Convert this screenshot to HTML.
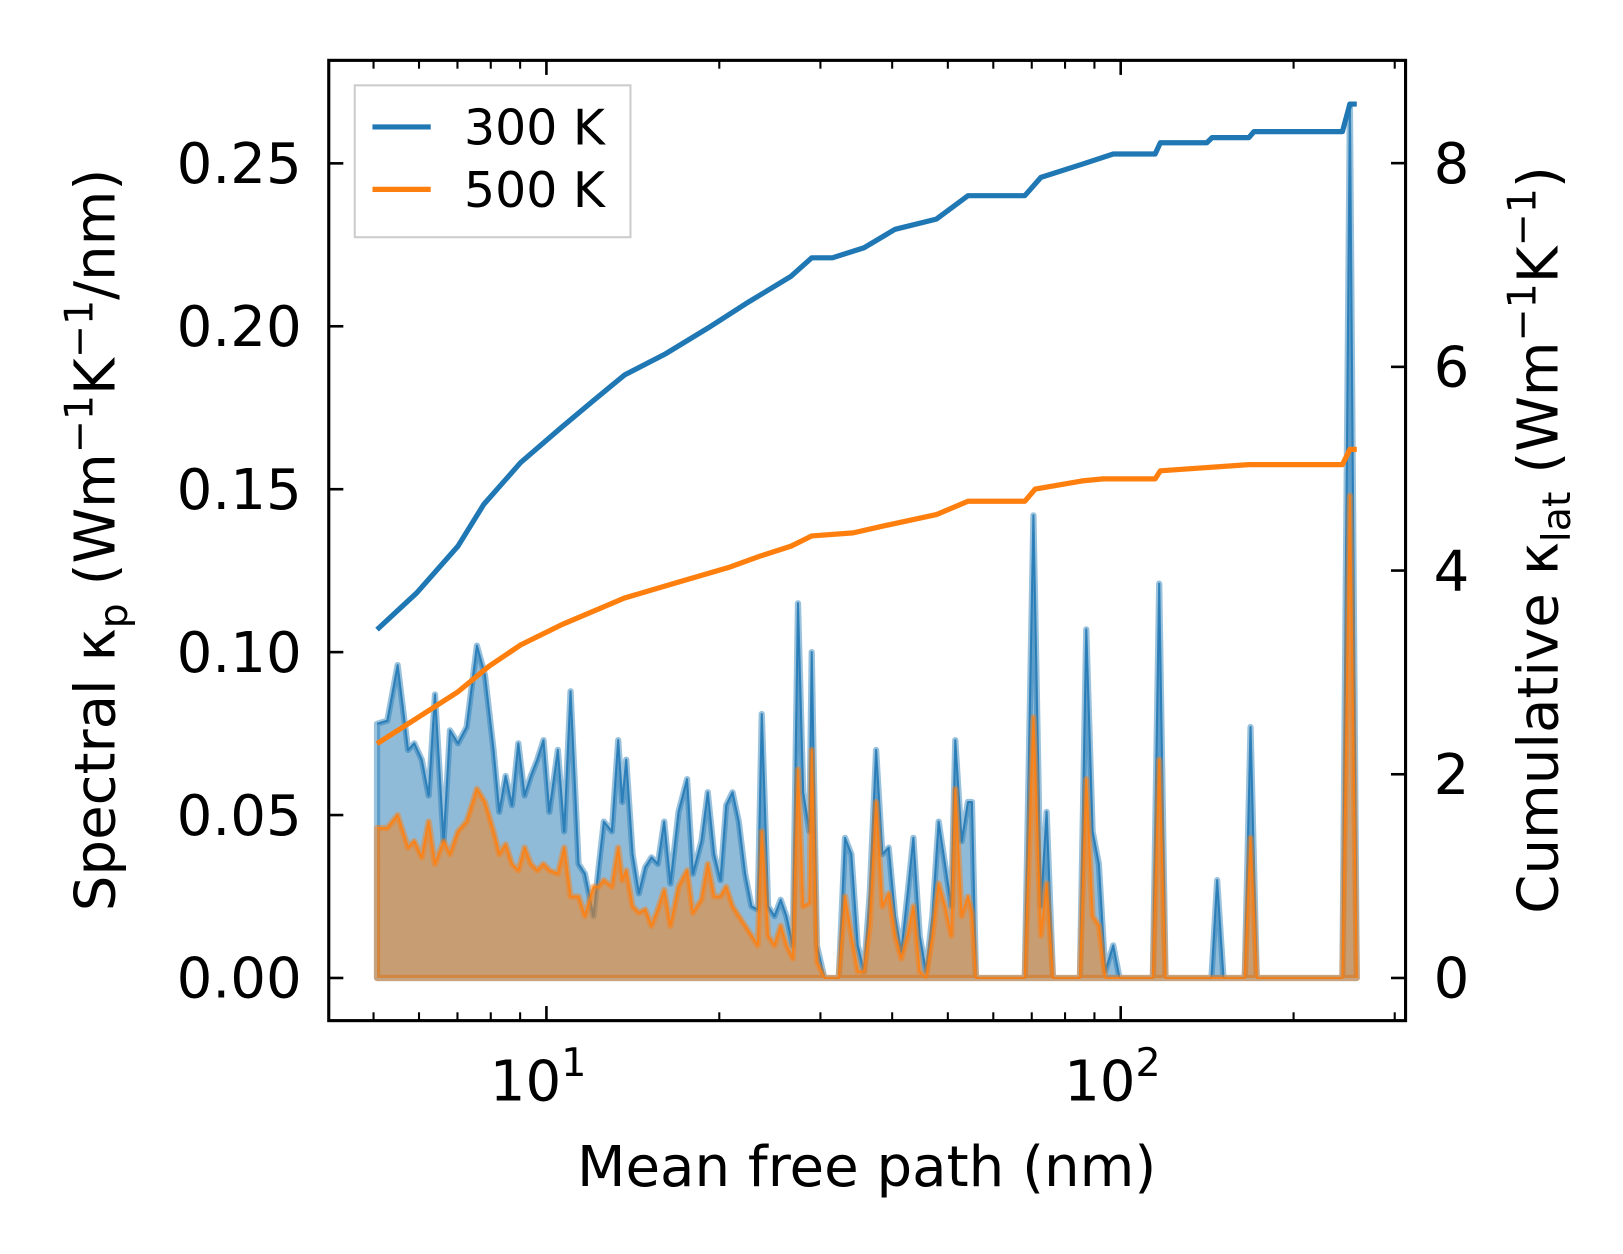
<!DOCTYPE html>
<html><head><meta charset="utf-8"><style>
html,body{margin:0;padding:0;background:#fff;}
svg{display:block;font-family:"DejaVu Sans","Liberation Sans",sans-serif;}
</style></head><body>
<svg id="chart" width="1623" height="1254" viewBox="0 0 1560 1205.3">
<rect x="0" y="0" width="1560" height="1206" fill="#fff"/>
<g id="marks"></g>
<g id="axes"></g>
</svg>
<script>
// log10 of mean free path (nm) grid for spectral data
const spectralLogMfp = [
0.705,0.723,0.741,0.759,0.770,0.783,0.795,0.806,0.821,0.832,
0.846,0.861,0.879,0.893,0.908,0.918,0.929,0.940,0.951,0.962,
0.973,0.984,0.995,1.005,1.020,1.031,1.042,1.056,1.067,1.082,
1.091,1.100,1.114,1.125,1.132,1.139,1.150,1.161,1.172,1.183,
1.194,1.205,1.216,1.230,1.245,1.255,1.270,1.281,1.292,1.303,
1.313,1.324,1.335,1.346,1.357,1.368,1.375,1.386,1.397,1.408,
1.418,1.429,1.438,1.447,1.458,1.462,1.471,1.484,1.498,1.509,
1.520,1.531,1.542,1.553,1.563,1.574,1.585,1.596,1.607,1.618,
1.629,1.639,1.650,1.661,1.672,1.683,1.694,1.705,1.712,1.723,
1.734,1.741,1.748,1.833,1.848,1.861,1.871,1.882,1.929,1.940,
1.951,1.962,1.973,1.987,1.998,2.056,2.067,2.078,2.158,2.168,
2.179,2.216,2.226,2.237,2.386,2.399,2.411];
const spectral300 = [
.078,.079,.096,.070,.072,.067,.056,.087,.042,.076,
.072,.077,.102,.093,.070,.051,.062,.053,.072,.056,
.062,.067,.073,.051,.070,.045,.088,.035,.032,.019,
.034,.048,.045,.073,.054,.067,.038,.026,.034,.037,
.035,.048,.029,.051,.061,.032,.042,.057,.038,.030,
.053,.057,.048,.032,.022,.021,.081,.022,.019,.024,
.019,.010,.115,.057,.045,.100,.010,0,0,0,
.043,.038,.010,.002,.026,.070,.038,.040,.019,.008,
.026,.043,.013,.002,.019,.048,.035,.022,.073,.042,
.054,.054,0,0,.142,.022,.051,0,0,.107,
.045,.035,.002,.010,0,0,.121,0,0,.030,
0,0,.077,0,0,.268,0];
const spectral500 = [
.046,.046,.050,.040,.042,.037,.048,.035,.042,.038,
.045,.048,.058,.054,.045,.038,.041,.035,.033,.040,
.035,.033,.035,.033,.032,.040,.025,.025,.019,.028,
.028,.030,.028,.040,.030,.033,.022,.020,.021,.016,
.021,.027,.016,.028,.033,.020,.024,.035,.025,.025,
.028,.022,.019,.016,.013,.010,.045,.013,.010,.016,
.010,.006,.064,.022,.023,.070,.005,0,0,0,
.025,.013,.002,.002,.016,.054,.022,.026,.013,.006,
.013,.022,.002,0,.013,.029,.022,.013,.058,.019,
.025,.020,0,0,.080,.013,.029,0,0,.061,
.019,.016,0,0,0,0,.067,0,0,0,
0,0,.043,0,0,.148,0];
const cum300LogMfp = [.705,.774,.846,.891,.955,1.027,1.082,1.136,1.208,1.281,1.353,1.426,1.462,1.498,1.553,1.607,1.679,1.734,1.833,1.861,1.933,1.987,2.060,2.069,2.150,2.159,2.223,2.232,2.386,2.399,2.411];
const cum300 = [3.42,3.78,4.24,4.65,5.06,5.41,5.67,5.92,6.13,6.38,6.64,6.89,7.07,7.07,7.17,7.35,7.45,7.68,7.68,7.86,7.99,8.09,8.09,8.20,8.20,8.25,8.25,8.31,8.31,8.58,8.58];
const cum500LogMfp = [.705,.774,.846,.900,.955,1.027,1.136,1.226,1.317,1.371,1.426,1.462,1.534,1.589,1.679,1.734,1.833,1.851,1.933,1.969,2.060,2.069,2.223,2.386,2.399,2.411];
const cum500 = [2.30,2.55,2.81,3.06,3.27,3.47,3.73,3.88,4.03,4.14,4.24,4.34,4.37,4.44,4.55,4.68,4.68,4.80,4.88,4.90,4.90,4.98,5.04,5.04,5.19,5.19];
const leftTicks = [0,0.05,0.10,0.15,0.20,0.25];
const leftTickLabels = ["0.00","0.05","0.10","0.15","0.20","0.25"];
const rightTicks = [0,2,4,6,8];
const rightTickLabels = ["0","2","4","6","8"];
const xMajorExp = [1,2];

const NS="http://www.w3.org/2000/svg";
const L=316,R=1351,T=58,B=981;
const xMin=0.621,xMax=2.496;
const X=e=>L+(e-xMin)/(xMax-xMin)*(R-L);
const YL=v=>940-v*3132;
const YR=v=>940-v*97.9;
const marks=document.getElementById('marks');
const axes=document.getElementById('axes');
function mk(tag,attrs,parent){const el=document.createElementNS(NS,tag);for(const k in attrs)el.setAttribute(k,attrs[k]);parent.appendChild(el);return el;}

function drawSpectral(vals,color,name){
  let d='M'+X(spectralLogMfp[0])+','+YL(0);
  let ld='';
  vals.forEach((v,i)=>{d+=' L'+X(spectralLogMfp[i]).toFixed(1)+','+YL(v).toFixed(1);ld+=(i?' L':'M')+X(spectralLogMfp[i]).toFixed(1)+','+YL(v).toFixed(1);});
  d+=' L'+X(spectralLogMfp[spectralLogMfp.length-1])+','+YL(0)+' Z';
  const f=mk('path',{d:d,fill:color,'fill-opacity':0.5,stroke:color,'stroke-opacity':0.45,'stroke-width':6,'stroke-linejoin':'round'},marks);
  
  
  const l=mk('path',{d:ld,fill:'none',stroke:color,'stroke-opacity':0.85,'stroke-width':2,'stroke-linejoin':'round'},marks);
  
  
}
drawSpectral(spectral300,'#1f77b4','spectral-300k');
drawSpectral(spectral500,'#ff7f0e','spectral-500k');

function drawCum(xs,vals,color,name){
  let d='';
  vals.forEach((v,i)=>{d+=(i?' L':'M')+X(xs[i]).toFixed(1)+','+YR(v).toFixed(1);});
  const p=mk('path',{d:d,fill:'none',stroke:color,'stroke-width':5,'stroke-linejoin':'round'},marks);
  
  
}
drawCum(cum300LogMfp,cum300,'#1f77b4','cumulative-300k-line');
drawCum(cum500LogMfp,cum500,'#ff7f0e','cumulative-500k-line');

const fr=mk('rect',{x:L,y:T,width:R-L,height:B-T,fill:'none',stroke:'#000','stroke-width':3},axes);



for(let dec=0;dec<=2;dec++){
  for(let m=1;m<10;m++){
    const e=dec+Math.log10(m);
    if(e<xMin||e>xMax)continue;
    const x=X(e);const len=m===1?14:8;const w=m===1?2.5:2;
    const t1=mk('line',{x1:x,x2:x,y1:B,y2:B-len,stroke:'#000','stroke-width':w},axes);
    
    
    const t2=mk('line',{x1:x,x2:x,y1:T,y2:T+len,stroke:'#000','stroke-width':w},axes);
    
    
  }
}
xMajorExp.forEach(e=>{
  const t=mk('text',{x:X(e)-8,y:1058,'font-size':54,'text-anchor':'middle'},axes);
  
  
  t.textContent='10';
  const s=mk('tspan',{dy:-24,'font-size':38},t);
  s.textContent=String(e);
});
leftTicks.forEach((v,i)=>{
  const y=YL(v);
  const l=mk('line',{x1:L,x2:L+14,y1:y,y2:y,stroke:'#000','stroke-width':2.5},axes);
  
  
  const t=mk('text',{x:290,y:y+19,'font-size':54,'text-anchor':'end'},axes);
  
  
  t.textContent=leftTickLabels[i];
});
rightTicks.forEach((v,i)=>{
  const y=YR(v);
  const l=mk('line',{x1:R,x2:R-14,y1:y,y2:y,stroke:'#000','stroke-width':2.5},axes);
  
  
  const t=mk('text',{x:1378,y:y+19,'font-size':54,'text-anchor':'start'},axes);
  
  
  t.textContent=rightTickLabels[i];
});
</script>
<script>
const svg=document.getElementById('chart');
svg.insertAdjacentHTML('beforeend',`
<text x="833" y="1140" font-size="54" text-anchor="middle">Mean free path (nm)</text>
<text transform="translate(110,519) rotate(-90)" font-size="54" text-anchor="middle">Spectral κ<tspan font-size="38" dy="12">p</tspan><tspan dy="-12"> (Wm</tspan><tspan font-size="38" dy="-21">−1</tspan><tspan dy="21">K</tspan><tspan font-size="38" dy="-21">−1</tspan><tspan dy="21">/nm)</tspan></text>
<text transform="translate(1497,519) rotate(-90)" font-size="54" text-anchor="middle">Cumulative κ<tspan font-size="38" dy="12">lat</tspan><tspan dy="-12"> (Wm</tspan><tspan font-size="38" dy="-21">−1</tspan><tspan dy="21">K</tspan><tspan font-size="38" dy="-21">−1</tspan><tspan dy="21">)</tspan></text>
<g>
<rect x="341" y="82" width="265" height="146" fill="#fff" fill-opacity="0.8" stroke="#ccc" stroke-width="2"/>
<line x1="358" y1="122" x2="414" y2="122" stroke="#1f77b4" stroke-width="5"/>
<text x="446" y="139" font-size="47">300 K</text>
<line x1="358" y1="182" x2="414" y2="182" stroke="#ff7f0e" stroke-width="5"/>
<text x="446" y="199" font-size="47">500 K</text>
</g>`);
</script>
</body></html>
